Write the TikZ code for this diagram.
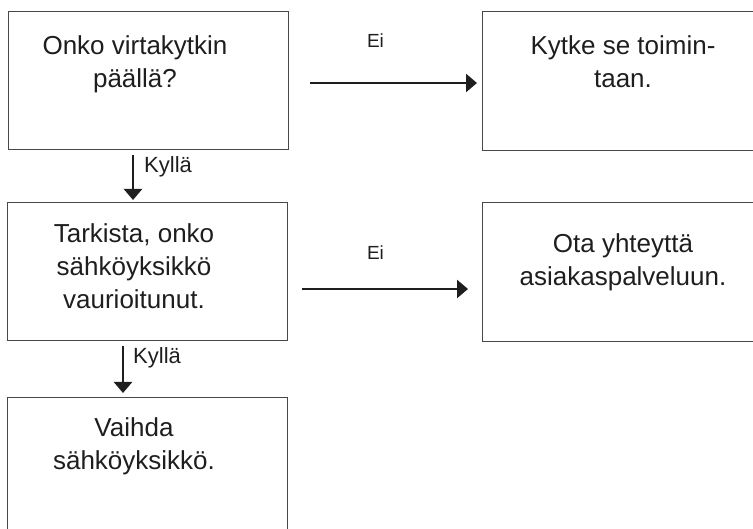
\documentclass[tikz,border=0pt]{standalone}
\usepackage{fontspec}
\setmainfont{Liberation Sans}
\usetikzlibrary{arrows.meta,calc}
\definecolor{boxline}{HTML}{484848}
\definecolor{ink}{HTML}{1E1E1E}
\tikzset{
  box/.style={draw=boxline, line width=1.4pt, rectangle, anchor=north west, inner sep=0pt},
  boxtext/.style={text=ink, align=center, anchor=base, inner sep=0pt, font=\fontsize{26}{33}\selectfont},
  lbl/.style={text=ink, inner sep=0pt, font=\fontsize{22}{26}\selectfont},
  eilbl/.style={text=ink, inner sep=0pt, anchor=base, font=\fontsize{19}{22}\selectfont},
  flow/.style={draw=ink, line width=2.6pt, -{Triangle[length=11pt,width=18pt]}}
}
\begin{document}
\begin{tikzpicture}[x=1pt,y=-1pt]
\useasboundingbox (0,0) rectangle (753,529);
\clip (0,0) rectangle (753,529);
\node[box, minimum width=280pt, minimum height=138pt] (b1) at (8,11) {};
\node[box, minimum width=300pt, minimum height=139pt] (b2) at (482,11) {};
\node[box, minimum width=280pt, minimum height=138pt] (b3) at (7,202) {};
\node[box, minimum width=300pt, minimum height=139pt] (b4) at (482,202) {};
\node[box, minimum width=280pt, minimum height=200pt] (b5) at (7,397) {};
\node[boxtext] (t1) at (135,88) {Onko virtakytkin\\päällä?};
\node[boxtext] (t2) at (623,88) {Kytke se toimin-\\taan.};
\node[boxtext] (t3) at (134,309) {Tarkista, onko\\sähköyksikkö\\vaurioitunut.};
\node[boxtext] (t4) at (623,286) {Ota yhteyttä\\asiakaspalveluun.};
\node[boxtext] (t5) at (134,470) {Vaihda\\sähköyksikkö.};
\coordinate (a1s) at (310,83);
\coordinate (a2s) at (302,289);
\coordinate (d1x) at (133,0);
\coordinate (d2x) at (123,0);
\draw[flow, shorten >=5pt] (a1s) -- (b2.west |- a1s);
\draw[flow, shorten >=14pt] (a2s) -- (b4.west |- a2s);
\draw[flow, shorten <=5pt, shorten >=2pt] (d1x |- b1.south) -- (d1x |- b3.north);
\draw[flow, shorten <=5pt, shorten >=4pt] (d2x |- b3.south) -- (d2x |- b5.north);
\node[eilbl] (e1) at (375.5,48) {Ei};
\node[eilbl] (e2) at (375.5,260) {Ei};
\node[lbl, anchor=base west] (k1) at (144,173) {Kyllä};
\node[lbl, anchor=base west] (k2) at (133,364) {Kyllä};
\end{tikzpicture}
\end{document}
